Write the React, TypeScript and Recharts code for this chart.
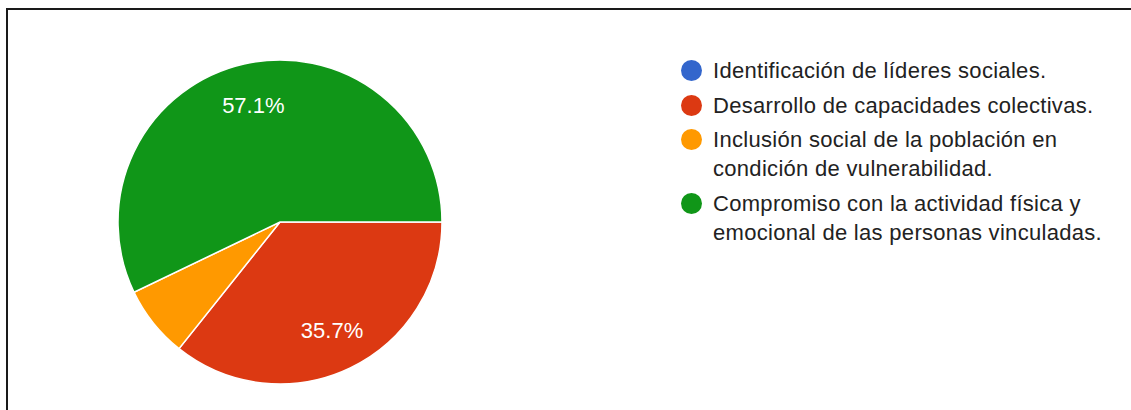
import { PieChart, Pie, Cell, Legend } from 'recharts';

const categories = [
    'Identificación de líderes sociales.',
    'Desarrollo de capacidades colectivas.',
    'Inclusión social de la población en condición de vulnerabilidad.',
    'Compromiso con la actividad física y emocional de las personas vinculadas.',
];
const responses = [0, 5, 1, 8];
const sliceColors = ['#3366cc', '#dc3912', '#ff9900', '#109618'];

const FONT = '"Liberation Sans", Arial, sans-serif';
const RADIAN = Math.PI / 180;

const chartData = categories.map((name, i) => ({ name, value: responses[i] }));

// percentage text inside the big slices, like google forms does
const renderLabel = (props: any) => {
    const { cx, cy, midAngle, outerRadius, percent } = props;
    if (percent < 0.1) return null;
    const r = outerRadius * 0.74;
    const x = cx + r * Math.cos(-midAngle * RADIAN);
    const y = cy + r * Math.sin(-midAngle * RADIAN);
    return (
        <text
            x={x}
            y={y}
            fill="#ffffff"
            textAnchor="middle"
            dominantBaseline="central"
            style={{ fontFamily: FONT, fontSize: 22 }}
        >
            {`${(percent * 100).toFixed(1)}%`}
        </text>
    );
};

// legend keeps the data order (recharts sorts the pie payload by name)
const renderLegend = () => (
    <div style={{ fontFamily: FONT, fontSize: 22, color: '#222222', letterSpacing: 0.3 }}>
        {categories.map((name, i) => (
            <div key={i} style={{ display: 'flex', alignItems: 'flex-start', marginBottom: 5.5 }}>
                <span
                    style={{
                        width: 21,
                        height: 21,
                        borderRadius: '50%',
                        background: sliceColors[i],
                        marginTop: 4,
                        marginRight: 11,
                        flexShrink: 0,
                    }}
                />
                <span style={{ lineHeight: '29px', width: 400 }}>{name}</span>
            </div>
        ))}
    </div>
);

export default function App() {
    return (
        <div
            style={{
                position: 'absolute',
                left: 6,
                top: 8,
                width: 1125,
                height: 402,
                borderTop: '2px solid #1a1a1a',
                borderLeft: '2px solid #1a1a1a',
                background: '#ffffff',
            }}
        >
            <PieChart width={1123} height={400} margin={{ top: 0, right: 0, bottom: 0, left: 0 }}>
                <Pie
                    data={chartData}
                    dataKey="value"
                    nameKey="name"
                    cx={272}
                    cy={212}
                    outerRadius={162}
                    startAngle={0}
                    endAngle={-360}
                    stroke="#ffffff"
                    strokeWidth={1.5}
                    label={renderLabel}
                    labelLine={false}
                    isAnimationActive={false}
                >
                    {chartData.map((_, i) => (
                        <Cell key={i} fill={sliceColors[i]} />
                    ))}
                </Pie>
                <Legend
                    layout="vertical"
                    content={renderLegend}
                    wrapperStyle={{ left: 673, top: 46, width: 440 }}
                />
            </PieChart>
        </div>
    );
}
